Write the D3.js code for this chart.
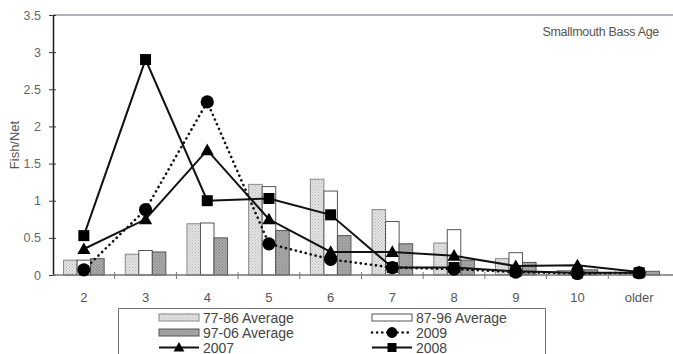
<!DOCTYPE html>
<html>
<head>
<meta charset="utf-8">
<script src="https://cdn.jsdelivr.net/npm/d3@7"></script>
<style>
    body { margin: 0; background: #fff; }
    svg { display: block; font-family: 'Liberation Sans', Arial, sans-serif; }
</style>
</head>
<body>
<svg width="673" height="354"></svg>
<script>
// data
const categories = ['2', '3', '4', '5', '6', '7', '8', '9', '10', 'older'];
const avg7786 = [0.2, 0.28, 0.69, 1.22, 1.29, 0.88, 0.43, 0.22, 0.06, 0.03];
const avg8796 = [0.2, 0.33, 0.7, 1.19, 1.13, 0.72, 0.61, 0.3, 0.05, 0.04];
const avg9706 = [0.22, 0.31, 0.5, 0.6, 0.53, 0.42, 0.2, 0.17, 0.07, 0.05];
const y2009 = [0.07, 0.88, 2.33, 0.42, 0.21, 0.1, 0.08, 0.04, 0.02, 0.03];
const y2007 = [0.35, 0.75, 1.68, 0.75, 0.31, 0.31, 0.26, 0.12, 0.13, 0.04];
const y2008 = [0.53, 2.9, 1.0, 1.03, 0.81, 0.1, 0.1, 0.05, 0.03, 0.03];
const yTicks = [0, 0.5, 1, 1.5, 2, 2.5, 3, 3.5];

const margins = { left: 53, right: 3, top: 15, bottom: 79 };
const W = 673, H = 354;

const svg = d3.select('svg');

// ---------------------------------------------------------
// patterns for the stippled bars
const defs = svg.append('defs');
function stipple(id, bg, dot) {
    const p = defs.append('pattern')
        .attr('id', id)
        .attr('width', 3).attr('height', 3)
        .attr('patternUnits', 'userSpaceOnUse');
    p.append('rect').attr('width', 3).attr('height', 3).attr('fill', bg);
    p.append('rect').attr('x', 0).attr('y', 0).attr('width', 1).attr('height', 1).attr('fill', dot);
    p.append('rect').attr('x', 1.5).attr('y', 1.5).attr('width', 1).attr('height', 1).attr('fill', dot);
}
stipple('pat1', '#e4e4e4', '#b8b8b8');
stipple('pat3', '#a8a8a8', '#888');

const barSeries = [
    { name: '77-86 Average', values: avg7786, fill: 'url(#pat1)', stroke: '#888' },
    { name: '87-96 Average', values: avg8796, fill: '#fff', stroke: '#555' },
    { name: '97-06 Average', values: avg9706, fill: 'url(#pat3)', stroke: '#555' }
];
const lineSeries = [
    { name: '2009', values: y2009, marker: 'circle', dash: '0.1 5' },
    { name: '2007', values: y2007, marker: 'triangle', dash: null },
    { name: '2008', values: y2008, marker: 'square', dash: null }
];

// ---------------------------------------------------------
// scales
const xScale = d3.scaleBand()
    .domain(categories)
    .range([margins.left, W - margins.right]);
const xSub = d3.scaleBand()
    .domain(barSeries.map((s) => s.name))
    .range([0, xScale.bandwidth()])
    .paddingOuter(0.78);
const yScale = d3.scaleLinear()
    .domain([0, 3.5])
    .range([H - margins.bottom, margins.top]);

const y0 = yScale(0);

// plot border (top)
svg.append('line')
    .attr('x1', margins.left).attr('x2', W)
    .attr('y1', yScale(3.5)).attr('y2', yScale(3.5))
    .attr('stroke', '#9a9aa6').attr('stroke-width', 1.5);

// ---------------------------------------------------------
// bars
barSeries.forEach((s) => {
    svg.append('g')
        .selectAll('rect')
        .data(s.values)
        .join('rect')
        .attr('x', (d, i) => xScale(categories[i]) + xSub(s.name))
        .attr('y', (d) => yScale(d))
        .attr('width', xSub.bandwidth())
        .attr('height', (d) => y0 - yScale(d))
        .attr('fill', s.fill)
        .attr('stroke', s.stroke)
        .attr('stroke-width', 1);
});

// ---------------------------------------------------------
// axes
const yAxis = d3.axisLeft(yScale).tickValues(yTicks).tickSizeInner(4).tickSizeOuter(0).tickPadding(8)
    .tickFormat(d3.format('~g'));
const yg = svg.append('g').attr('transform', `translate(${margins.left},0)`).call(yAxis);
yg.select('.domain').attr('stroke', '#1a1a1a').attr('stroke-width', 1.5);
yg.selectAll('.tick line').attr('stroke', '#333');
yg.selectAll('.tick text').attr('fill', '#666').style('font-size', '12.5px')
    .style('font-family', "'Liberation Sans', Arial, sans-serif");
svg.append('g').attr('transform', `translate(${margins.left},0)`)
    .call(d3.axisLeft(yScale).tickValues(yTicks).tickSize(-3).tickFormat(''))
    .call((g) => g.select('.domain').remove())
    .selectAll('.tick line').attr('stroke', '#333');

// x axis: line, crossing ticks between categories, labels centred
svg.append('line')
    .attr('x1', margins.left).attr('x2', W)
    .attr('y1', y0).attr('y2', y0)
    .attr('stroke', '#777').attr('stroke-width', 1.5);
const bounds = categories.slice(1).map((c) => xScale(c));
svg.append('g').selectAll('line')
    .data(bounds)
    .join('line')
    .attr('x1', (d) => d).attr('x2', (d) => d)
    .attr('y1', y0 - 3).attr('y2', y0 + 4)
    .attr('stroke', '#777');
svg.append('g').selectAll('text')
    .data(categories)
    .join('text')
    .attr('x', (d) => xScale(d) + xScale.bandwidth() / 2)
    .attr('y', y0 + 27)
    .attr('text-anchor', 'middle')
    .attr('fill', '#555')
    .style('font-size', '13px')
    .text((d) => d);

// ---------------------------------------------------------
// lines and markers
const line = d3.line()
    .x((d, i) => xScale(categories[i]) + xScale.bandwidth() / 2)
    .y((d) => yScale(d));

function drawMarker(g, type, size) {
    if (type === 'circle') {
        g.append('circle').attr('r', size * 0.6).attr('fill', '#000');
    } else if (type === 'square') {
        g.append('rect').attr('x', -size / 2).attr('y', -size / 2)
            .attr('width', size).attr('height', size).attr('fill', '#000');
    } else {
        const s = size * 0.6;
        g.append('path').attr('d', `M0,${-s}L${s},${s * 0.75}L${-s},${s * 0.75}Z`).attr('fill', '#000');
    }
}

lineSeries.forEach((s) => {
    svg.append('path')
        .datum(s.values)
        .attr('d', line)
        .attr('fill', 'none')
        .attr('stroke', '#111')
        .attr('stroke-width', s.dash ? 2.6 : 2)
        .attr('stroke-linecap', s.dash ? 'round' : 'butt')
        .attr('stroke-dasharray', s.dash);
    svg.append('g')
        .selectAll('g')
        .data(s.values)
        .join('g')
        .attr('transform', (d, i) => `translate(${xScale(categories[i]) + xScale.bandwidth() / 2},${yScale(d)})`)
        .each(function () { drawMarker(d3.select(this), s.marker, 11); });
});

// ---------------------------------------------------------
// titles
svg.append('text')
    .attr('x', 659).attr('y', 36)
    .attr('text-anchor', 'end')
    .attr('fill', '#555')
    .style('font-size', '12.5px')
    .style('letter-spacing', '-0.3px')
    .text('Smallmouth Bass Age');
svg.append('text')
    .attr('transform', 'rotate(-90)')
    .attr('x', -145).attr('y', 19)
    .attr('text-anchor', 'middle')
    .attr('fill', '#555')
    .style('font-size', '13px')
    .text('Fish/Net');

// ---------------------------------------------------------
// legend
const legend = svg.append('g').attr('id', 'legend');
legend.append('rect')
    .attr('x', 118.5).attr('y', 308.5)
    .attr('width', 427).attr('height', 60)
    .attr('fill', '#fff')
    .attr('stroke', '#777');

const legendItems = [
    { s: barSeries[0], kind: 'bar', col: 0, row: 0 },
    { s: barSeries[1], kind: 'bar', col: 1, row: 0 },
    { s: barSeries[2], kind: 'bar', col: 0, row: 1 },
    { s: lineSeries[0], kind: 'line', col: 1, row: 1 },
    { s: lineSeries[1], kind: 'line', col: 0, row: 2 },
    { s: lineSeries[2], kind: 'line', col: 1, row: 2 }
];
const colX = [159, 372];
const rowY = [317.5, 332.5, 347.5];
legendItems.forEach((it) => {
    const g = legend.append('g')
        .attr('transform', `translate(${colX[it.col]},${rowY[it.row]})`);
    if (it.kind === 'bar') {
        g.append('rect')
            .attr('x', 0).attr('y', -3.5)
            .attr('width', 40).attr('height', 7)
            .attr('fill', it.s.fill)
            .attr('stroke', it.s.stroke);
    } else {
        g.append('line')
            .attr('x1', 0).attr('x2', 40)
            .attr('stroke', '#111')
            .attr('stroke-width', it.s.dash ? 2.6 : 2)
            .attr('stroke-linecap', it.s.dash ? 'round' : 'butt')
            .attr('stroke-dasharray', it.s.dash);
        drawMarker(g.append('g').attr('transform', 'translate(20,0)'), it.s.marker, 9);
    }
    g.append('text')
        .attr('x', 44).attr('y', 5)
        .attr('fill', '#444')
        .style('font-size', '14px')
        .text(it.s.name);
});
</script>
</body>
</html>
